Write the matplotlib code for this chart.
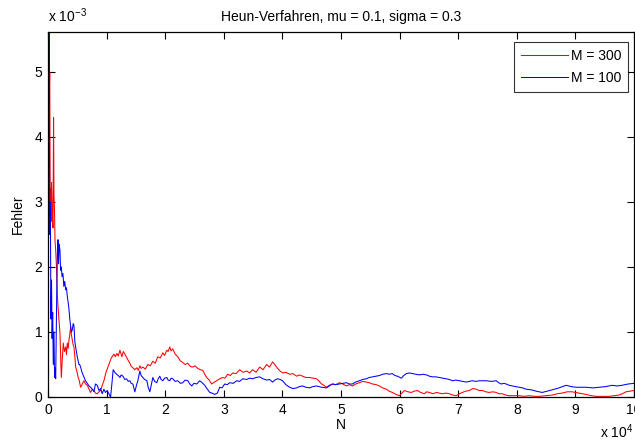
import matplotlib
matplotlib.use("Agg")
import matplotlib.pyplot as plt
from matplotlib.ticker import FuncFormatter

# ---- data (N, error in 1e-3) ----
n_red = [0, 120, 200, 300, 380, 450, 520, 600, 700, 850, 950, 1020, 1100, 1200,
         1310, 1450, 1580, 1700, 1870, 2040, 2270, 2450, 2610, 2800, 3020, 3150,
         3290, 3450, 3580, 3700, 3870, 4000, 4140, 4300, 4430, 4600, 4720, 4850,
         4990, 5150, 5280, 5450, 5570, 5850, 6130, 6400, 6700, 7000, 7270, 7550,
         7840, 8100, 8400, 8700, 8980, 9250, 9540, 9900, 10390, 10800, 11240,
         11500, 11750, 12000, 12270, 12610, 12850, 13120, 13460, 13700, 13970,
         14200, 14480, 14800, 15160, 15400, 15670, 15900, 16180, 16600, 17040,
         17450, 17890, 18300, 18740, 19150, 19590, 19900, 20270, 20500, 20780,
         21000, 21290, 21700, 22150, 22550, 23000, 23400, 23850, 24300, 24700,
         25100, 25550, 26000, 26410, 26750, 27090, 27500, 27940, 28400, 28790,
         29300, 29810, 30200, 30660, 31100, 31520, 32100, 32710, 33300, 33900,
         34400, 34920, 35500, 36120, 36700, 37310, 37800, 38330, 38700, 39180,
         39600, 40030, 40600, 41230, 41800, 42420, 42900, 43440, 44000, 44630,
         45200, 45830, 46300, 46680, 47100, 47530, 48000, 48550, 49100, 49740,
         50300, 50940, 51400, 51960, 52500, 53150, 53700, 54340, 54800, 55370,
         56000, 56560, 57100, 57750, 58200, 58770, 59400, 59970, 60400, 60820,
         61400, 62010, 62500, 63030, 63600, 64230, 64600, 65080, 65700, 66270,
         66800, 67290, 67900, 68480, 69100, 69680, 70200, 70700, 71300, 71890,
         72500, 73080, 73600, 74110, 74700, 75300, 75900, 76490, 77000, 77510,
         78100, 78710, 79500, 80410, 81300, 82110, 83000, 83820, 84900, 86030,
         86900, 87730, 88600, 89440, 90000, 90630, 91200, 91820, 92700, 93530,
         94600, 95740, 96600, 97440, 98000, 98640, 99300, 100000]
err_red = [6.5, 5.3, 4.6, 5.0, 2.8, 3.2, 2.7, 3.3, 2.9, 2.6, 4.3, 3.1, 2.9, 2.4,
           2.26, 2.0, 1.6, 1.4, 1.18, 0.98, 0.3, 0.6, 0.83, 0.7, 0.77, 0.65,
           0.83, 0.75, 0.88, 0.95, 1.08, 0.95, 0.88, 0.8, 0.77, 0.6, 0.46, 0.42,
           0.37, 0.3, 0.27, 0.2, 0.15, 0.2, 0.25, 0.2, 0.18, 0.12, 0.07, 0.12,
           0.1, 0.06, 0.05, 0.08, 0.1, 0.18, 0.25, 0.38, 0.5, 0.6, 0.66,
           0.62, 0.67, 0.63, 0.72, 0.62, 0.7, 0.66, 0.6, 0.56, 0.52,
           0.47, 0.45, 0.42, 0.45, 0.41, 0.48, 0.44, 0.46, 0.43, 0.5,
           0.48, 0.55, 0.52, 0.62, 0.6, 0.68, 0.64, 0.72, 0.7, 0.77,
           0.71, 0.74, 0.66, 0.62, 0.56, 0.53, 0.5, 0.52, 0.47, 0.46,
           0.48, 0.44, 0.42, 0.41, 0.35, 0.3, 0.26, 0.2, 0.23, 0.25,
           0.28, 0.3, 0.29, 0.35, 0.33, 0.37, 0.36, 0.42, 0.38, 0.4,
           0.37, 0.42, 0.38, 0.46, 0.42, 0.5, 0.46, 0.54, 0.5, 0.44,
           0.4, 0.37, 0.38, 0.35, 0.36, 0.32, 0.34, 0.32, 0.3, 0.3,
           0.29, 0.28, 0.24, 0.2, 0.18, 0.15, 0.18, 0.2, 0.19, 0.22,
           0.2, 0.17, 0.19, 0.17, 0.2, 0.22, 0.24, 0.23, 0.22, 0.2,
           0.19, 0.17, 0.14, 0.12, 0.09, 0.07, 0.04, 0.02, 0.06, 0.1,
           0.08, 0.07, 0.09, 0.1, 0.07, 0.05, 0.08, 0.07, 0.05, 0.07,
           0.06, 0.05, 0.06, 0.05, 0.03, 0.02, 0.05, 0.07, 0.09, 0.1,
           0.13, 0.12, 0.1, 0.1, 0.08, 0.07, 0.08, 0.07, 0.05, 0.05,
           0.03, 0.02, 0.02, 0.02, 0.01, 0.02, 0.01, 0.01, 0.02, 0.03,
           0.05, 0.06, 0.08, 0.08, 0.07, 0.06, 0.05, 0.04, 0.02, 0.01,
           0.01, 0.01, 0.02, 0.03, 0.05, 0.08, 0.09, 0.1]

n_blue = [0, 100, 200, 300, 400, 500, 600, 700, 800, 900, 1020, 1120, 1190, 1310,
          1480, 1600, 1700, 1800, 1900, 2040, 2150, 2270, 2400, 2550, 2700, 2850,
          3020, 3150, 3290, 3450, 3580, 3720, 3870, 4000, 4140, 4300, 4430, 4580,
          4720, 4850, 4990, 5150, 5280, 5400, 5570, 5800, 6130, 6400, 6700, 7000,
          7270, 7550, 7840, 8100, 8400, 8700, 8980, 9250, 9540, 9800, 10100,
          10400, 10680, 10900, 11120, 11400, 11700, 12000, 12270, 12500, 12780,
          13100, 13400, 13700, 13970, 14200, 14480, 14820, 15100, 15330, 15670,
          15900, 16180, 16500, 16870, 17100, 17380, 17650, 17890, 18200, 18570,
          18800, 19080, 19300, 19590, 19900, 20270, 20500, 20780, 21000, 21290,
          21700, 22150, 22600, 23000, 23400, 23850, 24200, 24530, 24900, 25380,
          25890, 26300, 26750, 27200, 27600, 28000, 28450, 28900, 29300, 29700,
          30150, 30600, 31000, 31600, 32200, 32700, 33220, 33900, 34400, 34920,
          35500, 36120, 36700, 37310, 37800, 38330, 38700, 39180, 39600, 40030,
          40600, 41230, 41800, 42420, 42900, 43440, 44000, 44630, 45200, 45830,
          46700, 47530, 48000, 48550, 49100, 49740, 50300, 50940, 51400, 51960,
          52500, 53150, 53700, 54340, 54800, 55370, 56000, 56560, 57100, 57750,
          58200, 58770, 59200, 59630, 60310, 60700, 61160, 61700, 62180, 62800,
          63370, 64000, 64570, 65100, 65590, 66200, 66780, 67400, 67970, 68500,
          68990, 69600, 70190, 70800, 71380, 71900, 72400, 73000, 73590, 74200,
          74790, 75600, 76490, 76900, 77340, 77800, 78190, 78700, 79220, 79800,
          80410, 81000, 81600, 82500, 83300, 83800, 84330, 85200, 86030, 87200,
          88420, 89300, 90120, 91000, 91820, 93000, 94040, 95200, 96250, 97100,
          97960, 99000, 100000]
err_blue = [6.5, 4.5, 5.6, 2.5, 3.0, 1.2, 1.8, 0.9, 1.3, 0.5, 1.0, 0.3, 0.45, 0.28,
            1.5, 2.2, 2.42, 2.05, 2.35, 2.26, 1.95, 2.0, 1.85, 1.9, 1.7, 1.78,
            1.65, 1.68, 1.55, 1.45, 1.35, 1.2, 1.08, 1.0, 1.03, 1.13, 1.1, 0.85,
            0.77, 0.7, 0.62, 0.55, 0.5, 0.5, 0.46, 0.38, 0.31, 0.25, 0.21, 0.17,
            0.15, 0.12, 0.08, 0.2, 0.18, 0.1, 0.13, 0.05, 0.12, 0.07, 0.1,
            0.05, 0.0, 0.2, 0.42, 0.38, 0.35, 0.33, 0.3, 0.34, 0.32,
            0.27, 0.28, 0.24, 0.25, 0.21, 0.2, 0.08, 0.18, 0.25, 0.4,
            0.33, 0.3, 0.27, 0.25, 0.15, 0.08, 0.2, 0.3, 0.24, 0.22,
            0.28, 0.32, 0.27, 0.25, 0.29, 0.3, 0.26, 0.25, 0.29, 0.28,
            0.24, 0.25, 0.21, 0.22, 0.26, 0.25, 0.2, 0.17, 0.21, 0.2,
            0.25, 0.22, 0.18, 0.12, 0.07, 0.06, 0.04, 0.06, 0.15, 0.14,
            0.2, 0.19, 0.22, 0.21, 0.25, 0.24, 0.28, 0.27, 0.29, 0.28,
            0.3, 0.31, 0.28, 0.26, 0.27, 0.23, 0.26, 0.28, 0.27, 0.25,
            0.19, 0.15, 0.13, 0.14, 0.16, 0.17, 0.15, 0.14, 0.16, 0.17,
            0.15, 0.14, 0.17, 0.2, 0.19, 0.2, 0.21, 0.22, 0.2, 0.2,
            0.23, 0.25, 0.27, 0.28, 0.3, 0.31, 0.32, 0.33, 0.35, 0.36,
            0.35, 0.36, 0.33, 0.32, 0.29, 0.33, 0.36, 0.37, 0.36, 0.35,
            0.34, 0.35, 0.34, 0.32, 0.31, 0.31, 0.3, 0.29, 0.28, 0.27,
            0.25, 0.26, 0.25, 0.24, 0.23, 0.24, 0.25, 0.24, 0.25, 0.25,
            0.25, 0.24, 0.25, 0.22, 0.2, 0.21, 0.2, 0.18, 0.17, 0.16,
            0.15, 0.14, 0.12, 0.11, 0.09, 0.08, 0.07, 0.09, 0.11, 0.14,
            0.18, 0.16, 0.15, 0.15, 0.15, 0.14, 0.15, 0.16, 0.18, 0.17,
            0.18, 0.2, 0.21]

x_ticks = list(range(0, 100001, 10000))
y_ticks = [0, 1, 2, 3, 4, 5]

plt.rcParams['font.family'] = ['Liberation Sans', 'DejaVu Sans']
plt.rcParams['mathtext.default'] = 'regular'
FS = 10

fig = plt.figure(figsize=(6.35, 4.42), dpi=100)
ax = fig.add_axes([48 / 635, 45 / 442, 586 / 635, 365 / 442])

ax.plot(n_red, [v * 1e-3 for v in err_red], color='#ff0000', lw=0.75, label='M = 300')
ax.plot(n_blue, [v * 1e-3 for v in err_blue], color='#0000ff', lw=0.75, label='M = 100')

ax.set_xlim(0, 100000)
ax.set_ylim(0, 5.615e-3)
ax.set_xticks(x_ticks)
ax.set_yticks([v * 1e-3 for v in y_ticks])
ax.xaxis.set_major_formatter(FuncFormatter(lambda v, p: f'{v / 1e4:g}'))
ax.yaxis.set_major_formatter(FuncFormatter(lambda v, p: f'{v * 1e3:g}'))
ax.tick_params(direction='in', top=True, right=True, length=5, width=0.8,
               labelsize=FS, colors='black', pad=4)
for s in ax.spines.values():
    s.set_linewidth(0.9)

ax.set_title('Heun-Verfahren, mu = 0.1, sigma = 0.3', fontsize=FS, pad=8)
ax.set_xlabel('N', fontsize=FS, labelpad=1)
ax.set_ylabel('Fehler', fontsize=FS, labelpad=7)

fig.text(48 / 635, 1 - 22 / 442, r'x 10$^{-3}$', fontsize=FS, ha='left', va='baseline')
fig.text(600 / 635, 1 - 438 / 442, r'x 10$^{4}$', fontsize=FS, ha='left', va='baseline')

leg = ax.legend(loc='upper right', bbox_to_anchor=(628 / 635, 1 - 42 / 442),
                bbox_transform=fig.transFigure, borderaxespad=0,
                fontsize=FS, handlelength=3.4, frameon=True, fancybox=False,
                borderpad=0.5, labelspacing=0.55, handletextpad=0.15)
leg.get_frame().set_edgecolor('black')
leg.get_frame().set_linewidth(0.8)

fig.savefig('out.png', dpi=100)
